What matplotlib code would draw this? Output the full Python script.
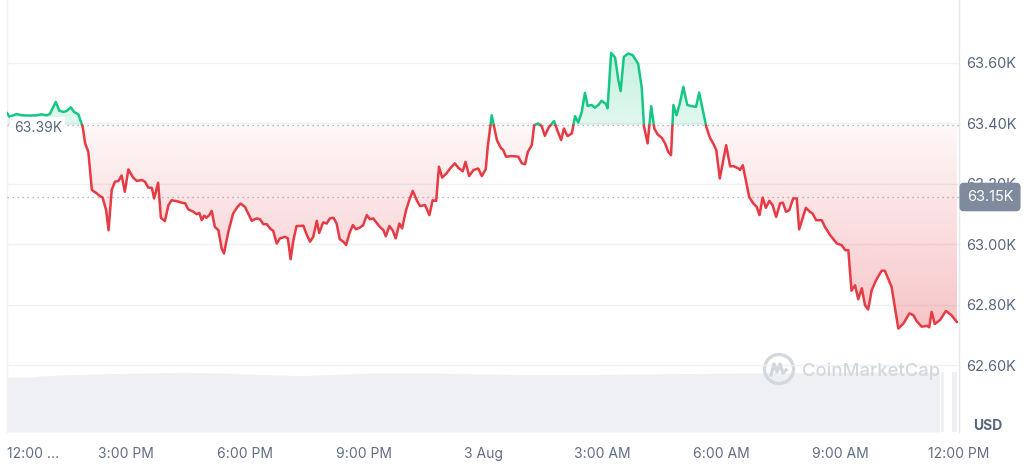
import numpy as np
import matplotlib
matplotlib.use("Agg")
import matplotlib.pyplot as plt
from matplotlib.path import Path
from matplotlib.patches import Ellipse
from matplotlib.lines import Line2D

plt.rcParams['font.family'] = ['Inter', 'DejaVu Sans']

# hours since 12:00 PM, 2 Aug
hours = [0.00, 0.06, 0.16, 0.24, 0.37, 0.58, 0.75, 0.87, 1.00, 1.08,
         1.23, 1.32, 1.42, 1.50, 1.61, 1.69, 1.80, 1.88, 1.91, 1.97,
         2.05, 2.14, 2.26, 2.34, 2.41, 2.50, 2.56, 2.64, 2.72, 2.81,
         2.89, 2.97, 3.06, 3.18, 3.27, 3.40, 3.48, 3.56, 3.65, 3.71,
         3.81, 3.88, 3.98, 4.07, 4.15, 4.28, 4.40, 4.49, 4.57, 4.70,
         4.78, 4.85, 4.91, 4.97, 5.03, 5.10, 5.16, 5.24, 5.33, 5.41,
         5.47, 5.58, 5.70, 5.81, 5.89, 6.00, 6.08, 6.17, 6.29, 6.38,
         6.46, 6.55, 6.63, 6.71, 6.80, 6.88, 7.01, 7.08, 7.15, 7.22,
         7.30, 7.39, 7.47, 7.56, 7.64, 7.72, 7.81, 7.87, 7.97, 8.06,
         8.14, 8.23, 8.31, 8.39, 8.48, 8.55, 8.63, 8.72, 8.80, 8.90,
         8.98, 9.07, 9.15, 9.23, 9.32, 9.40, 9.49, 9.55, 9.64, 9.72,
         9.80, 9.89, 9.96, 10.06, 10.14, 10.23, 10.33, 10.41, 10.54, 10.65,
         10.73, 10.82, 10.89, 10.97, 11.08, 11.17, 11.29, 11.38, 11.49, 11.56,
         11.65, 11.76, 11.88, 11.97, 12.07, 12.12, 12.22, 12.28, 12.35, 12.45,
         12.51, 12.58, 12.72, 12.89, 12.98, 13.06, 13.13, 13.23, 13.29, 13.39,
         13.48, 13.56, 13.65, 13.79, 13.87, 13.97, 14.04, 14.13, 14.24, 14.32,
         14.40, 14.49, 14.57, 14.64, 14.74, 14.82, 14.91, 14.99, 15.10, 15.14,
         15.23, 15.33, 15.41, 15.47, 15.55, 15.66, 15.77, 15.91, 16.00, 16.06,
         16.15, 16.24, 16.32, 16.40, 16.51, 16.59, 16.67, 16.74, 16.80, 16.88,
         16.97, 17.05, 17.15, 17.26, 17.37, 17.45, 17.54, 17.63, 17.72, 17.81,
         17.88, 17.97, 18.13, 18.23, 18.31, 18.44, 18.48, 18.55, 18.71, 18.81,
         18.90, 18.97, 19.05, 19.13, 19.22, 19.30, 19.39, 19.49, 19.56, 19.64,
         19.72, 19.82, 19.91, 19.97, 20.14, 20.24, 20.31, 20.40, 20.54, 20.62,
         20.75, 20.92, 21.04, 21.13, 21.21, 21.29, 21.38, 21.46, 21.55, 21.63,
         21.71, 21.80, 21.91, 22.05, 22.13, 22.30, 22.47, 22.60, 22.75, 22.85,
         22.93, 23.06, 23.19, 23.25, 23.31, 23.39, 23.52, 23.67, 23.81, 23.95]

price = [63434, 63421, 63426, 63430, 63426, 63425, 63426, 63429, 63426, 63430,
         63470, 63441, 63437, 63440, 63452, 63437, 63429, 63399, 63386, 63333,
         63305, 63179, 63168, 63159, 63154, 63112, 63046, 63179, 63206, 63209,
         63227, 63173, 63247, 63220, 63209, 63212, 63206, 63187, 63186, 63151,
         63203, 63087, 63076, 63129, 63145, 63142, 63137, 63135, 63115, 63107,
         63099, 63103, 63079, 63094, 63087, 63096, 63110, 63057, 63046, 62986,
         62969, 63041, 63101, 63123, 63134, 63123, 63101, 63077, 63085, 63082,
         63066, 63066, 63052, 63044, 63002, 63019, 63024, 63019, 62950, 63013,
         63060, 63060, 63061, 63030, 63008, 63024, 63077, 63037, 63072, 63068,
         63085, 63087, 63068, 63016, 63008, 62997, 63035, 63063, 63049, 63055,
         63063, 63096, 63082, 63085, 63070, 63057, 63046, 63026, 63060, 63046,
         63019, 63068, 63052, 63112, 63145, 63176, 63145, 63126, 63129, 63096,
         63145, 63143, 63256, 63220, 63234, 63250, 63267, 63252, 63241, 63272,
         63225, 63245, 63250, 63225, 63248, 63322, 63426, 63388, 63344, 63318,
         63311, 63289, 63291, 63289, 63267, 63264, 63305, 63327, 63393, 63399,
         63390, 63358, 63384, 63407, 63377, 63344, 63382, 63357, 63366, 63423,
         63402, 63437, 63500, 63457, 63460, 63451, 63460, 63474, 63463, 63449,
         63632, 63617, 63544, 63506, 63619, 63630, 63625, 63597, 63520, 63388,
         63333, 63456, 63382, 63363, 63351, 63333, 63305, 63294, 63460, 63426,
         63470, 63520, 63460, 63456, 63454, 63501, 63443, 63387, 63352, 63331,
         63311, 63217, 63327, 63257, 63258, 63250, 63245, 63261, 63156, 63135,
         63123, 63096, 63154, 63120, 63143, 63129, 63090, 63135, 63137, 63107,
         63112, 63151, 63151, 63049, 63120, 63107, 63101, 63079, 63079, 63057,
         63030, 63002, 62997, 62980, 62980, 62846, 62864, 62818, 62854, 62798,
         62784, 62848, 62881, 62912, 62912, 62859, 62721, 62738, 62771, 62765,
         62746, 62727, 62730, 62725, 62776, 62736, 62749, 62779, 62765, 62742]

# 24h volume (billions USD), bottom strip
vol_hours = [0.0, 0.58, 0.83, 1.46, 2.6, 4.44, 5.24, 6.05, 7.39, 8.22, 9.33,
             10.66, 11.92, 13.69, 15.45, 17.47, 18.98, 20.75, 22.51, 23.5]
volume = [27.5, 27.5, 28.0, 28.6, 29.2, 29.8, 29.6, 29.0, 28.2, 28.8, 29.6,
          29.6, 29.0, 28.7, 28.9, 29.3, 29.6, 29.9, 30.0, 30.0]
vol_tail_hours = [23.55, 23.62, 23.82, 23.95]
vol_tail = [30.0, 30.0, 30.0, 30.0]

open_price = 63393
last_price = 63155
yticks = [62600, 62800, 63000, 63200, 63400, 63600]
ytick_labels = ['62.60K', '62.80K', '63.00K', '63.20K', '63.40K', '63.60K']
xticks = [0, 3, 6, 9, 12, 15, 18, 21, 24]
xtick_labels = ['12:00 ...', '3:00 PM', '6:00 PM', '9:00 PM', '3 Aug',
                '3:00 AM', '6:00 AM', '9:00 AM', '12:00 PM']

RED = '#e63a44'
GREEN = '#16c784'
TXT = '#58667e'
W, H = 1024, 473

fig = plt.figure(figsize=(W / 100, H / 100), dpi=100)
fig.patch.set_facecolor('white')

# volume strip
vax = fig.add_axes([7 / W, 41 / H, 952 / W, 62 / H], zorder=0)
vax.fill_between(vol_hours, volume, 0, color='#eef0f3', lw=0)
vax.fill_between(vol_tail_hours[:2], vol_tail[:2], 0, color='#eef0f3', lw=0)
vax.fill_between(vol_tail_hours[2:], vol_tail[2:], 0, color='#eef0f3', lw=0)
vax.set_xlim(0, 24)
vax.set_ylim(0, 31)
vax.axis('off')

ax = fig.add_axes([7 / W, 41 / H, 952 / W, 432 / H], zorder=1)
ax.set_facecolor('none')

h = np.array(hours, dtype=float)
p = np.array(price, dtype=float)

# insert crossing points at the opening price
hh, pp = [h[0]], [p[0]]
for i in range(1, len(h)):
    a, b = p[i - 1] - open_price, p[i] - open_price
    if a * b < 0:
        t = a / (a - b)
        hh.append(h[i - 1] + t * (h[i] - h[i - 1]))
        pp.append(open_price)
    hh.append(h[i])
    pp.append(p[i])
hh = np.array(hh)
pp = np.array(pp)

for g in yticks:
    ax.axhline(g, color='#eff1f4', lw=1, zorder=1)


def gradient_fill(mask, color, lo, hi, a_lo, a_hi):
    coll = ax.fill_between(hh, pp, open_price, where=mask, interpolate=True,
                           facecolor='none', edgecolor='none')
    paths = coll.get_paths()
    if not paths:
        return
    clip = Path.make_compound_path(*paths)
    rgb = matplotlib.colors.to_rgb(color)
    n = 256
    img = np.zeros((n, 1, 4))
    img[:, 0, :3] = rgb
    img[:, 0, 3] = np.linspace(a_hi, a_lo, n)  # row 0 at top
    im = ax.imshow(img, extent=[0, 24, lo, hi], aspect='auto',
                   origin='upper', interpolation='bilinear', zorder=2)
    im.set_clip_path(clip, transform=ax.transData)


# red area: more intense further below the open price
gradient_fill(pp <= open_price, RED, p.min(), open_price, 0.30, 0.04)
gradient_fill(pp >= open_price, GREEN, open_price, p.max(), 0.13, 0.25)

green_line = np.where(pp >= open_price, pp, np.nan)
red_line = np.where(pp <= open_price, pp, np.nan)
ax.plot(hh, green_line, color=GREEN, lw=1.8, zorder=4, solid_capstyle='round')
ax.plot(hh, red_line, color=RED, lw=1.8, zorder=4, solid_capstyle='round')

ax.axhline(open_price, color='#9aa3b2', lw=0.9, ls=(0, (1, 3)), zorder=3)
ax.axhline(last_price, color='#9aa3b2', lw=0.9, ls=(0, (1, 3)), zorder=3)

ax.text(0.17, open_price - 8, '63.39K', color=TXT, fontsize=10,
        ha='left', va='center', zorder=5,
        bbox=dict(boxstyle='square,pad=0.25', fc='white', ec='none'))

ax.set_xlim(0, 24)
ax.set_ylim(62379, 63807)

ax.set_yticks(yticks)
ax.set_yticklabels(ytick_labels)
ax.yaxis.tick_right()
ax.tick_params(axis='y', length=0, pad=5, labelsize=10.5, labelcolor=TXT)

ax.set_xticks(xticks)
ax.set_xticklabels(xtick_labels)
ax.tick_params(axis='x', length=0, pad=11, labelsize=10, labelcolor='#616e85')
ax.get_xticklabels()[0].set_horizontalalignment('left')

for s in ['top', 'bottom']:
    ax.spines[s].set_visible(False)
ax.spines['left'].set_color('#eff1f4')
ax.spines['right'].set_color('#e4e7ec')
ax.spines['left'].set_linewidth(1)
ax.spines['right'].set_linewidth(1)

# current price tag (covers the 63.20K label, as in the source chart)
fig.text(990 / W, 1 - 197 / H, '63.15K', color='white', fontsize=10.5,
         ha='center', va='center', zorder=10,
         bbox=dict(boxstyle='round,pad=0.5,rounding_size=0.3',
                   fc='#808a9d', ec='none'))

fig.text(988 / W, 1 - 426 / H, 'USD', color=TXT, fontsize=10,
         fontweight='bold', ha='center', va='center')

# watermark
wm = '#d3d7de'
cx, cy = 779 / W, 1 - 369 / H
fig.add_artist(Ellipse((cx, cy), 29 / W, 29 / H, fill=False, ec=wm, lw=2.4,
                       transform=fig.transFigure))
zx = np.array([-8, -5, -2, 1, 4, 7]) / W
zy = np.array([-6, 5, -3, 5, -4, -1]) / H
fig.add_artist(Line2D(cx + zx, cy + zy, color=wm, lw=2.4,
                      transform=fig.transFigure, solid_joinstyle='round'))
fig.text(802 / W, 1 - 371 / H, 'CoinMarketCap', color=wm, fontsize=13.3,
         fontweight='medium', ha='left', va='center')

fig.savefig('out.png', dpi=100, facecolor='white')
